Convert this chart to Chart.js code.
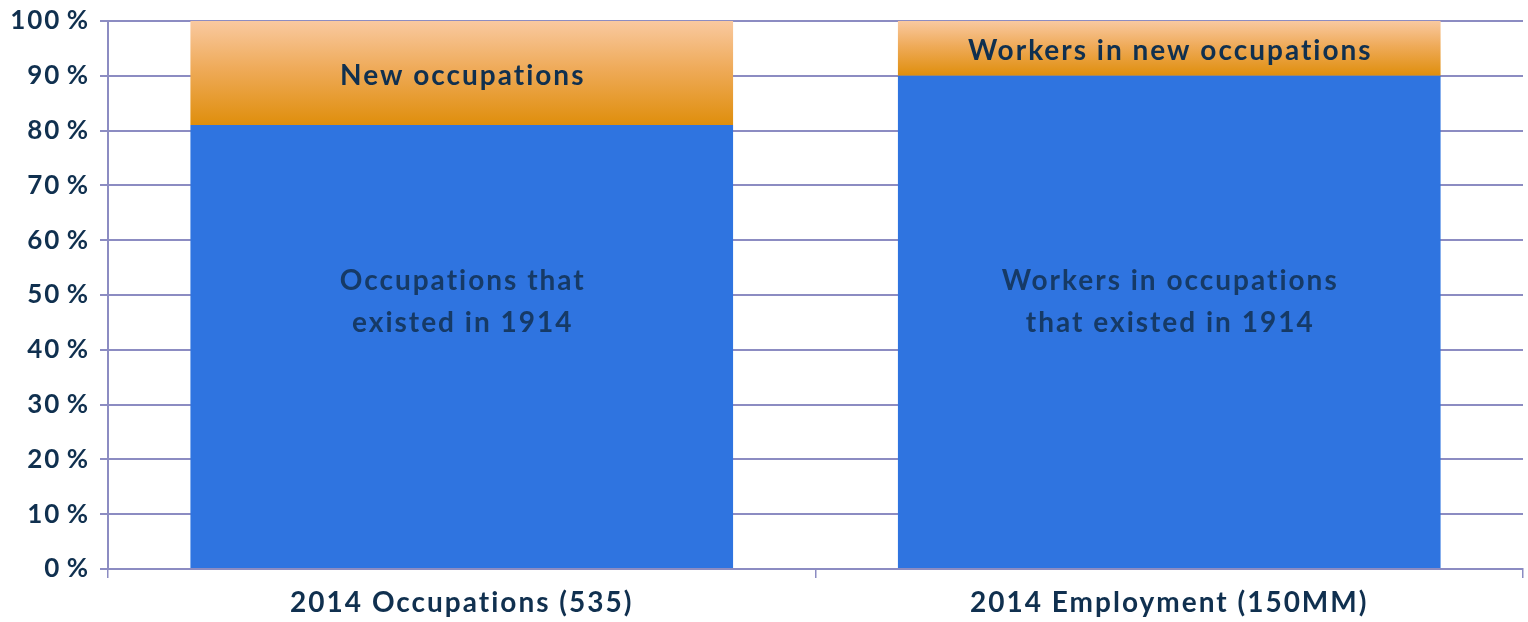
<!DOCTYPE html>
<html>
<head>
<meta charset="utf-8">
<script src="https://cdn.jsdelivr.net/npm/chart.js@4/dist/chart.umd.min.js"></script>
<style>
  html, body { margin: 0; padding: 0; background: #ffffff; }
  #wrap { width: 1528px; height: 622px; position: relative; }
</style>
</head>
<body>
<div id="wrap"><canvas id="c" width="1528" height="622"></canvas></div>
<script>
const categories = ['2014 Occupations (535)', '2014 Employment (150MM)'];
const existedShare = [81, 90];
const newShare = [19, 10];
const existedLabels = [['Occupations that', 'existed in 1914'], ['Workers in occupations', 'that existed in 1914']];
const newLabels = ['New occupations', 'Workers in new occupations'];
const yTicks = [0, 10, 20, 30, 40, 50, 60, 70, 80, 90, 100];

const FONT = 'Lato, "Open Sans", sans-serif';
const TEXT = '#10304f';
const GRID = '#8c8cc2';

function orangeGradient(ctx) {
  const chart = ctx.chart;
  const area = chart.chartArea;
  if (!area) return '#e8a040';
  const y = chart.scales.y;
  const i = ctx.dataIndex;
  const top = y.getPixelForValue(existedShare[i] + newShare[i]);
  const bot = y.getPixelForValue(existedShare[i]);
  const g = chart.ctx.createLinearGradient(0, top, 0, bot);
  g.addColorStop(0, '#f9c9a0');
  g.addColorStop(0.45, '#efab5a');
  g.addColorStop(1, '#df8e0c');
  return g;
}

const spacingPlugin = {
  id: 'spacing',
  beforeDraw(chart) { chart.ctx.letterSpacing = '2px'; }
};

const labelPlugin = {
  id: 'segLabels',
  afterDatasetsDraw(chart) {
    const c = chart.ctx;
    const x = chart.scales.x, y = chart.scales.y;
    c.save();
    c.letterSpacing = '2px';
    c.textAlign = 'center';
    c.textBaseline = 'middle';
    c.font = 'bold 28px ' + FONT;
    const dy = 3;
    categories.forEach((cat, i) => {
      const cx = x.getPixelForValue(i) + 1;
      const ny = y.getPixelForValue(existedShare[i] + newShare[i] / 2) + dy;
      c.fillStyle = TEXT;
      c.fillText(newLabels[i], cx, ny);
      const ey = y.getPixelForValue(49.1) + dy - 1;
      c.fillStyle = '#163a66';
      const lines = existedLabels[i];
      const lh = 42;
      lines.forEach((ln, k) => {
        c.fillText(ln, cx, ey + (k - (lines.length - 1) / 2) * lh);
      });
    });
    c.restore();
  }
};

new Chart(document.getElementById('c'), {
  type: 'bar',
  data: {
    labels: categories,
    datasets: [
      { label: 'Existed in 1914', data: existedShare, backgroundColor: '#2f74e0', borderWidth: 0,
        barPercentage: 0.767, categoryPercentage: 1.0 },
      { label: 'New', data: newShare, backgroundColor: orangeGradient, borderWidth: 0,
        barPercentage: 0.767, categoryPercentage: 1.0 }
    ]
  },
  options: {
    responsive: false,
    animation: false,
    devicePixelRatio: 1,
    layout: { padding: { top: 21, right: 5, left: 0, bottom: 0 } },
    plugins: { legend: { display: false }, tooltip: { enabled: false } },
    scales: {
      x: {
        stacked: true,
        offset: true,
        afterFit(s) { s.height = 53; s.paddingLeft = 0; s.paddingRight = 0; },
        grid: { display: true, drawOnChartArea: false, color: GRID, lineWidth: 1.5, tickLength: 9, offset: true },
        border: { display: true, color: GRID, width: 2 },
        ticks: { color: TEXT, font: { family: FONT, size: 28, weight: 'bold' }, padding: 8 }
      },
      y: {
        stacked: true,
        min: 0, max: 100,
        afterFit(s) { s.width = 108; s.paddingTop = 0; s.paddingBottom = 0; },
        afterBuildTicks(s) { s.ticks = yTicks.map(v => ({ value: v })); },
        grid: { color: GRID, lineWidth: 2, tickLength: 8 },
        border: { display: true, color: GRID, width: 2 },
        ticks: { color: TEXT, font: { family: FONT, size: 26, weight: 'bold' }, padding: 10,
                 callback: v => v + '\u2009%' }
      }
    }
  },
  plugins: [spacingPlugin, labelPlugin]
});
</script>
</body>
</html>
